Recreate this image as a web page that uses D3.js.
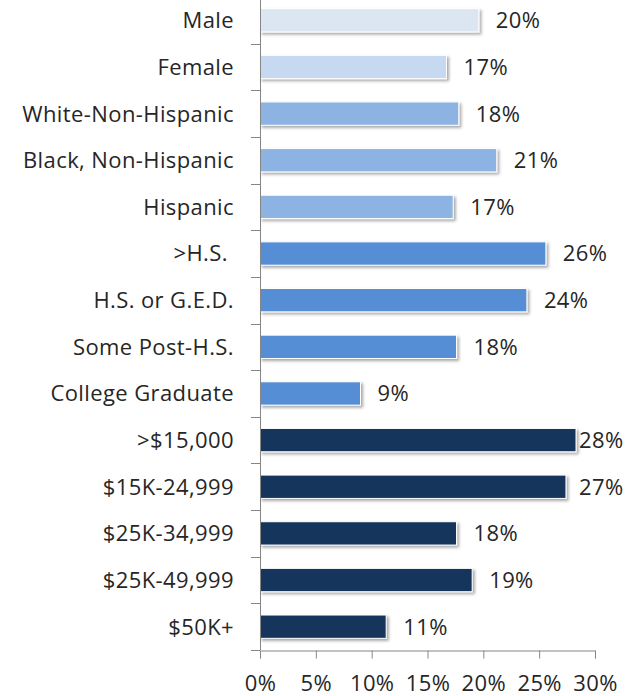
<!DOCTYPE html>
<html>
<head>
<meta charset="utf-8">
<script src="https://d3js.org/d3.v7.min.js"></script>
<style>
  body { margin: 0; background: #fff; }
  text { font-family: "Open Sans", Lato, sans-serif; fill: #262626; letter-spacing: 0.4px; }
</style>
</head>
<body>
<svg id="chart" width="639" height="696"></svg>
<script>
// data
var categories = ["Male", "Female", "White-Non-Hispanic", "Black, Non-Hispanic", "Hispanic",
  ">H.S. ", "H.S. or G.E.D.", "Some Post-H.S.", "College Graduate",
  ">$15,000", "$15K-24,999", "$25K-34,999", "$25K-49,999", "$50K+"];
var values = [19.6, 16.7, 17.8, 21.2, 17.3, 25.6, 23.9, 17.6, 9.0, 28.3, 27.4, 17.6, 19.0, 11.3];
var labels = ["20%", "17%", "18%", "21%", "17%", "26%", "24%", "18%", "9%", "28%", "27%", "18%", "19%", "11%"];
var groups = ["sex1", "sex2", "race", "race", "race", "edu", "edu", "edu", "edu",
  "inc", "inc", "inc", "inc", "inc"];
var xTicks = [0, 5, 10, 15, 20, 25, 30];

var colors = { sex1: "#dce6f2", sex2: "#c6d9f1", race: "#8db3e2", edu: "#558ed5", inc: "#17365d" };

var svg = d3.select("#chart");
var plotLeft = 260, plotRight = 595, plotTop = -3, plotBottom = 650;
var fontSize = "22px";

var x = d3.scaleLinear().domain([0, 30]).range([plotLeft, plotRight]);
var y = d3.scaleBand().domain(categories).range([plotTop, plotBottom]).paddingInner(0.5).paddingOuter(0.25);

var defs = svg.append("defs");
var f = defs.append("filter").attr("id", "shadow").attr("x", "-5%").attr("y", "-30%").attr("width", "115%").attr("height", "180%");
f.append("feDropShadow").attr("dx", 2).attr("dy", 2).attr("stdDeviation", 1.5).attr("flood-color", "#000").attr("flood-opacity", 0.35);

// bars
svg.selectAll("rect.bar")
  .data(categories)
  .enter()
  .append("rect")
  .attr("class", "bar")
  .attr("x", x(0))
  .attr("y", d => y(d))
  .attr("width", (d, i) => x(values[i]) - x(0))
  .attr("height", y.bandwidth())
  .attr("fill", (d, i) => colors[groups[i]])
  .attr("stroke", "#ffffff")
  .attr("stroke-width", 1)
  .attr("filter", "url(#shadow)");

// value labels (pushed back inside plot area when too wide)
svg.selectAll("text.val")
  .data(categories)
  .enter()
  .append("text")
  .attr("class", "val")
  .attr("x", (d, i) => Math.min(x(values[i]) + 17, 579))
  .attr("y", d => y(d) + y.bandwidth() / 2)
  .attr("dy", "0.36em")
  .style("font-size", fontSize)
  .text((d, i) => labels[i]);

// category labels
svg.selectAll("text.cat")
  .data(categories)
  .enter()
  .append("text")
  .attr("class", "cat")
  .attr("x", 234)
  .attr("y", d => y(d) + y.bandwidth() / 2)
  .attr("dy", "0.36em")
  .attr("text-anchor", "end")
  .style("font-size", fontSize)
  .style("white-space", "pre")
  .text(d => d);

// vertical axis with category separators
var gAxis = svg.append("g").attr("stroke", "#868686").attr("stroke-width", 1);
gAxis.append("line").attr("x1", plotLeft + 0.5).attr("x2", plotLeft + 0.5).attr("y1", plotTop).attr("y2", plotBottom);
var step = y.step();
categories.forEach(function (d) {
  var yb = Math.round(y(d) - step * 0.25 + step) + 0.5;
  gAxis.append("line").attr("x1", plotLeft - 9).attr("x2", plotLeft).attr("y1", yb).attr("y2", yb);
});

// horizontal axis
var xAxis = d3.axisBottom(x).tickValues(xTicks).tickFormat(d => d + "%").tickSize(8).tickPadding(17);
var gx = svg.append("g").attr("transform", "translate(0," + (plotBottom + 0.5) + ")").call(xAxis);
gx.select(".domain").attr("stroke", "#868686");
gx.selectAll(".tick line").attr("stroke", "#868686");
gx.selectAll(".tick text").style("font-size", fontSize).attr("fill", "#262626").style("font-family", "'Open Sans', sans-serif");
</script>
</body>
</html>
